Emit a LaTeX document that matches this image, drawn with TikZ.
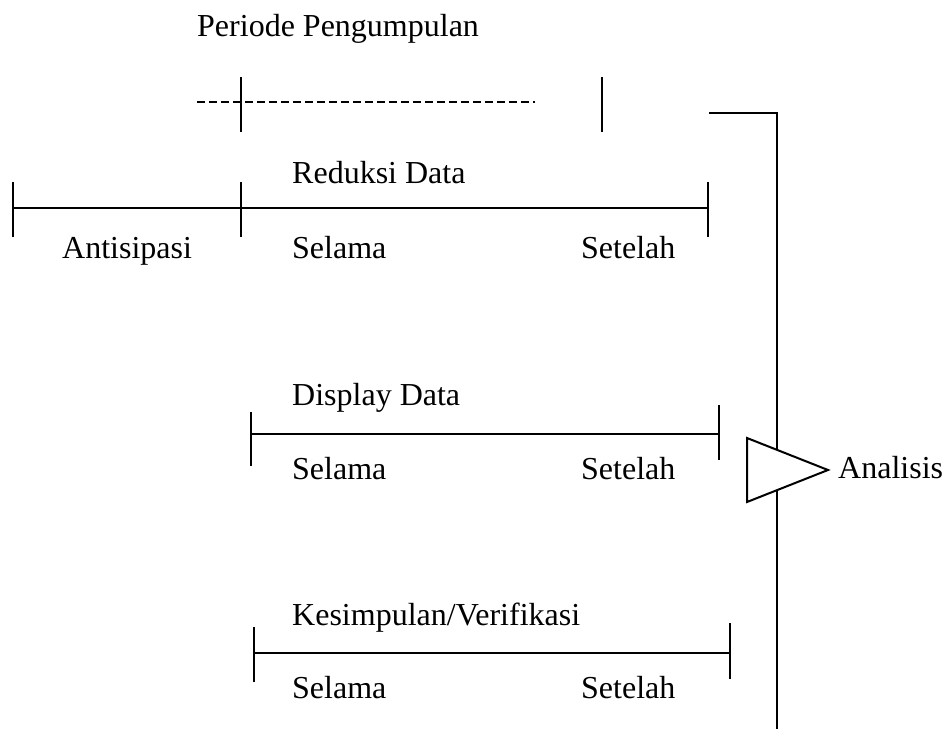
\documentclass[tikz,border=0pt]{standalone}
\usepackage{fontspec}
\setmainfont{Liberation Serif}
\usetikzlibrary{positioning}
\tikzset{lbl/.style={anchor=base west,inner sep=0pt,font=\fontsize{32}{38}\selectfont},
  tl/.style={line width=2pt},
  dashline/.style={line width=2pt,dash pattern=on 8pt off 4pt}}

\begin{document}
\begin{tikzpicture}[x=1pt,y=-1pt]
\useasboundingbox (0,0) rectangle (942,729);
% periode pengumpulan
\node[lbl] (periode) at (197,36) {Periode Pengumpulan};
\draw[dashline] (197,102) -- (535,102);
\draw[tl] (241,77) -- (241,132);
\draw[tl] (602,77) -- (602,132);
% reduksi data (with antisipasi)
\draw[tl] (13,208) -- (708,208);
\draw[tl] (13,182) -- (13,237);
\draw[tl] (241,182) -- (241,237);
\draw[tl] (708,182) -- (708,237);
\node[lbl] (reduksi) at (292,183) {Reduksi Data};
\node[lbl] (antisipasi) at (62,258) {Antisipasi};
\node[lbl] (selama1) at (292,258) {Selama};
\node[lbl] (setelah1) at (581,258) {Setelah};
% display data
\draw[tl] (251,434) -- (719,434);
\draw[tl] (251,412) -- (251,466);
\draw[tl] (719,405) -- (719,460);
\node[lbl] (display) at (292,405) {Display Data};
\node[lbl] (selama2) at (292,479) {Selama};
\node[lbl] (setelah2) at (581,479) {Setelah};
% kesimpulan/verifikasi
\draw[tl] (254,653) -- (730,653);
\draw[tl] (254,627) -- (254,682);
\draw[tl] (730,623) -- (730,679);
\node[lbl] (kesimpulan) at (292,625) {Kesimpulan/Verifikasi};
\node[lbl] (selama3) at (292,698) {Selama};
\node[lbl] (setelah3) at (581,698) {Setelah};
% analisis
\draw[tl] (709,113) -- (777,113) -- (777,729);
\draw[tl,fill=white] (747,438) -- (828,470) -- (747,502) -- cycle;
\node[lbl] (analisis) at (838,478) {Analisis};
\end{tikzpicture}
\end{document}
